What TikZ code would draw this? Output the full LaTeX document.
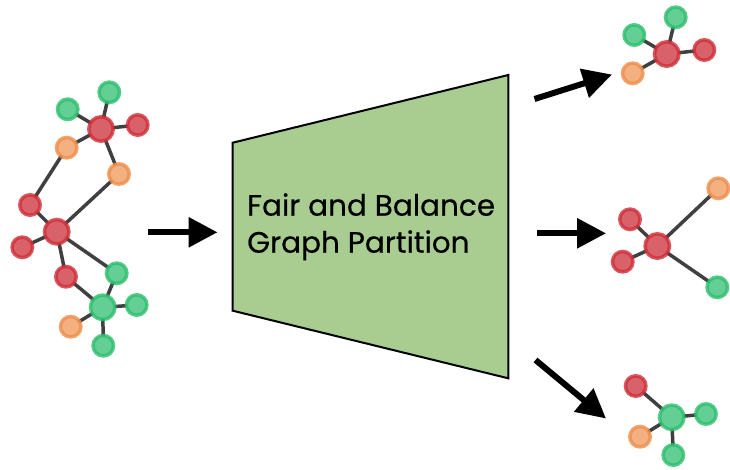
\documentclass[tikz,border=0pt]{standalone}
\usepackage{fontspec}
\setmainfont{Poppins}
\newfontfamily\boxfont{Poppins}[FakeBold=0.5,UprightFeatures={FakeBold=0.5}]
\usetikzlibrary{arrows.meta,backgrounds}
\definecolor{rfill}{RGB}{217,98,106}
\definecolor{rring}{RGB}{206,45,54}
\definecolor{gfill}{RGB}{99,207,149}
\definecolor{gring}{RGB}{45,190,108}
\definecolor{ofill}{RGB}{243,176,128}
\definecolor{oring}{RGB}{238,142,74}
\definecolor{edgec}{RGB}{64,64,64}
\definecolor{boxfill}{RGB}{169,205,145}
\tikzset{
  vtx/.style={circle,inner sep=0pt,minimum size=20.5pt,line width=3.5pt,draw opacity=0.8},
  big/.style={minimum size=24.5pt},
  rn/.style={vtx,fill=rfill,draw=rring},
  gn/.style={vtx,fill=gfill,draw=gring},
  on/.style={vtx,fill=ofill,draw=oring},
  edge/.style={draw=edgec,line width=3.5pt},
  bigarrow/.style={line width=6pt,-{Triangle[length=29pt,width=29pt]}},
  lbl/.style={font=\boxfont\fontsize{29.5}{34}\selectfont,anchor=base west,inner sep=0pt}
}
\begin{document}
\begin{tikzpicture}[x=1pt,y=-1pt]
\useasboundingbox (0,0) rectangle (730,469);
% left graph
\node[gn] (a1) at (67.7,109.3) {};
\node[gn] (a2) at (109.3,92.3) {};
\node[rn,big] (a3) at (101,129) {};
\node[rn] (a4) at (137.7,125) {};
\node[on] (a5) at (66.7,147.7) {};
\node[on] (a6) at (119,174) {};
\node[rn] (a7) at (30,205) {};
\node[rn,big] (a8) at (56.7,231.7) {};
\node[rn] (a9) at (22.3,247.3) {};
\node[rn] (a10) at (66,276.7) {};
\node[gn] (a11) at (116.7,273.3) {};
\node[gn,big] (a12) at (102.7,307.3) {};
\node[gn] (a13) at (136.7,305) {};
\node[on] (a14) at (70.7,326.7) {};
\node[gn] (a15) at (103.3,345.7) {};
% top right
\node[gn] (b1) at (634.3,35) {};
\node[gn] (b2) at (675.7,17.3) {};
\node[rn,big] (b3) at (666.7,54) {};
\node[rn] (b4) at (704.3,50) {};
\node[on] (b5) at (632.7,73.3) {};
% middle right
\node[on] (c1) at (718.3,188.3) {};
\node[rn] (c2) at (630,219.3) {};
\node[rn,big] (c3) at (657.3,246) {};
\node[rn] (c4) at (622.7,261.7) {};
\node[gn] (c5) at (717.3,287.3) {};
% bottom right
\node[rn] (d1) at (635.7,386) {};
\node[gn,big] (d2) at (671.7,417.3) {};
\node[gn] (d3) at (706,414) {};
\node[on] (d4) at (640,436.7) {};
\node[gn] (d5) at (673.3,455) {};
\begin{scope}[on background layer]
\draw[edge] (a1.center)--(a3.center) (a2.center)--(a3.center) (a4.center)--(a3.center)
  (a5.center)--(a3.center) (a6.center)--(a3.center) (a5.center)--(a7.center)
  (a6.center)--(a8.center) (a7.center)--(a8.center) (a9.center)--(a8.center)
  (a8.center)--(a10.center) (a8.center)--(a11.center) (a10.center)--(a12.center)
  (a11.center)--(a12.center) (a12.center)--(a13.center) (a12.center)--(a14.center)
  (a12.center)--(a15.center);
\draw[edge] (b1.center)--(b3.center) (b2.center)--(b3.center) (b4.center)--(b3.center) (b5.center)--(b3.center);
\draw[edge] (c1.center)--(c3.center) (c2.center)--(c3.center) (c4.center)--(c3.center) (c5.center)--(c3.center);
\draw[edge] (d1.center)--(d2.center) (d3.center)--(d2.center) (d4.center)--(d2.center) (d5.center)--(d2.center);
\end{scope}
% trapezoid
\coordinate (t1) at (232.7,142.7);
\coordinate (t2) at (508.3,75);
\coordinate (t3) at (508.3,378.3);
\coordinate (t4) at (232.7,310.7);
\draw[fill=boxfill,line width=2pt,line join=miter] (t1)--(t2)--(t3)--(t4)--cycle;
\node[lbl] (l1) at (247,215.7) {Fair and Balance};
\node[lbl] (l2) at (247,252.7) {Graph Partition};
% arrows
\coordinate (p0) at (148,232.3);
\coordinate (p1) at (217.5,232.3);
\draw[bigarrow] (p0)--(p1);
\coordinate (q0) at (534.5,99);
\coordinate (q1) at (612,74.5);
\draw[bigarrow] (q0)--(q1);
\coordinate (r0) at (537,233.3);
\coordinate (r1) at (606,233.3);
\draw[bigarrow] (r0)--(r1);
\coordinate (s0) at (535.5,360);
\coordinate (s1) at (606,418.5);
\draw[bigarrow] (s0)--(s1);
\end{tikzpicture}
\end{document}
